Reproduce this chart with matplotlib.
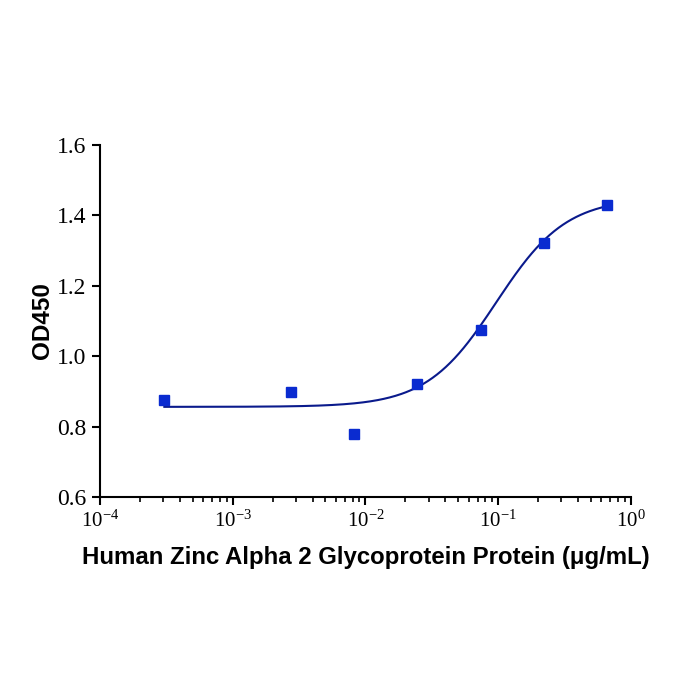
import matplotlib
matplotlib.use('Agg')
import matplotlib.pyplot as plt
from matplotlib.ticker import FixedLocator, LogLocator, NullFormatter
import numpy as np

# measured points
conc = [0.000305, 0.00274, 0.00823, 0.0247, 0.0741, 0.222, 0.667]
od450 = [0.876, 0.898, 0.779, 0.921, 1.074, 1.322, 1.430]

# 4PL fit parameters
bottom = 0.856
top = 1.45
ec50 = 0.097
hill = 1.65

plt.rcParams['mathtext.fontset'] = 'custom'
plt.rcParams['mathtext.rm'] = 'Liberation Serif'

fig = plt.figure(figsize=(7, 7), dpi=100)
ax = fig.add_axes([0.143, 0.29, 0.758, 0.503])

xc = np.logspace(np.log10(conc[0]), np.log10(conc[-1]), 300)
yc = bottom + (top - bottom) / (1 + (ec50 / xc) ** hill)
ax.plot(xc, yc, color='#0a1a8c', lw=1.5, zorder=2)
ax.plot(conc, od450, 's', color='#0a2bd0', ms=6.5, zorder=3)

ax.set_xscale('log')
ax.set_xlim(1e-4, 1)
ax.set_ylim(0.6, 1.6)
ax.set_yticks([0.6, 0.8, 1.0, 1.2, 1.4, 1.6])
ax.set_yticklabels(['0.6', '0.8', '1.0', '1.2', '1.4', '1.6'])
ax.xaxis.set_major_locator(FixedLocator([1e-4, 1e-3, 1e-2, 1e-1, 1]))
ax.set_xticklabels([r'$\mathregular{10^{-4}}$', r'$\mathregular{10^{-3}}$',
                    r'$\mathregular{10^{-2}}$', r'$\mathregular{10^{-1}}$',
                    r'$\mathregular{10^{0}}$'])
ax.xaxis.set_minor_locator(LogLocator(base=10, subs=np.arange(2, 10)))
ax.xaxis.set_minor_formatter(NullFormatter())

for s in ['top', 'right']:
    ax.spines[s].set_visible(False)
for s in ['left', 'bottom']:
    ax.spines[s].set_linewidth(1.5)

ax.tick_params(axis='both', which='major', direction='out', length=6, width=1.5, pad=4)
ax.tick_params(axis='y', labelsize=17)
ax.tick_params(axis='x', labelsize=15)
ax.tick_params(axis='x', which='minor', direction='out', length=3.5, width=1.2)
for lab in ax.get_yticklabels() + ax.get_xticklabels():
    lab.set_fontfamily('Liberation Serif')

ax.set_xlabel('Human Zinc Alpha 2 Glycoprotein Protein (μg/mL)', fontsize=17.3,
              fontweight='bold', family='Liberation Sans', labelpad=10)
ax.set_ylabel('OD450', fontsize=17.5, fontweight='bold', family='Liberation Sans',
              labelpad=2)

plt.savefig('out.png', dpi=100)
plt.close(fig)
